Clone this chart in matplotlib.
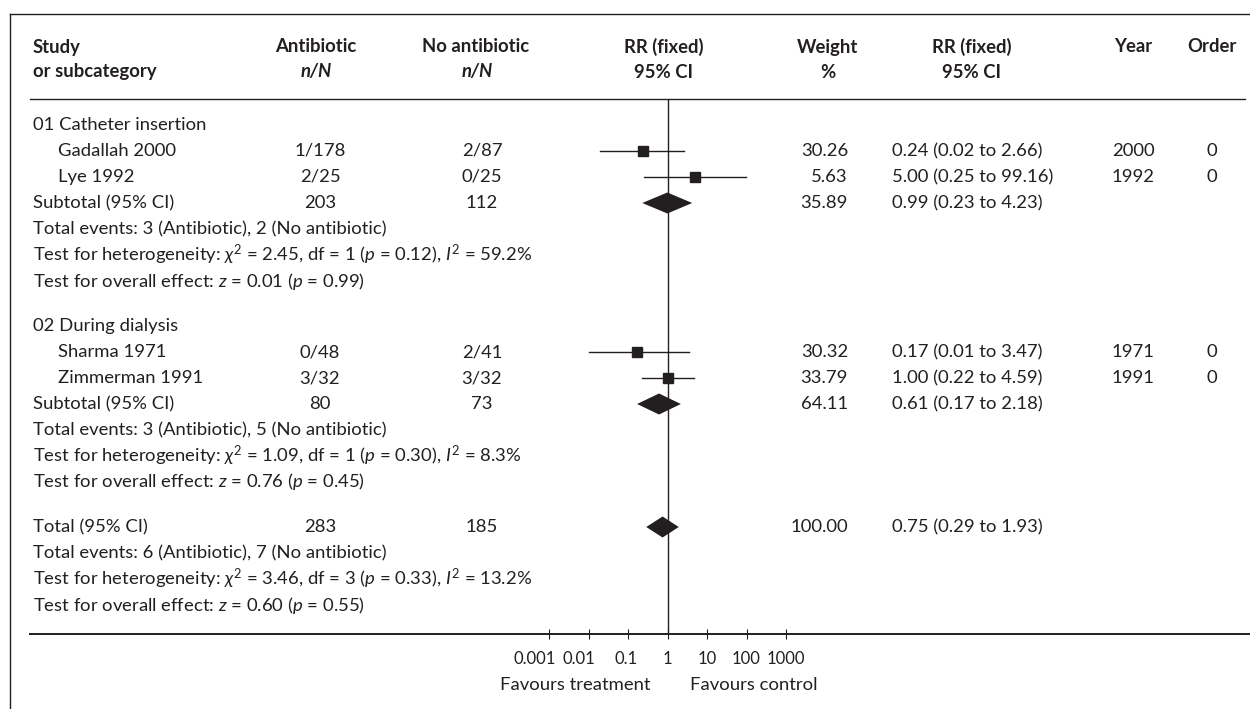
import matplotlib.pyplot as plt
from matplotlib.transforms import ScaledTranslation

plt.rcParams['font.family'] = ['Lato', 'DejaVu Sans']
plt.rcParams['mathtext.fontset'] = 'custom'
plt.rcParams['mathtext.rm'] = 'Lato'
plt.rcParams['mathtext.it'] = 'Lato:italic'
plt.rcParams['mathtext.bf'] = 'Lato:bold'

# ---- data ----
groups = ['01 Catheter insertion', '02 During dialysis']
studies = [['Gadallah 2000', 'Lye 1992'], ['Sharma 1971', 'Zimmerman 1991']]
antibiotic = [['1/178', '2/25'], ['0/48', '3/32']]
no_antibiotic = [['2/87', '0/25'], ['2/41', '3/32']]
weights = [['30.26', '5.63'], ['30.32', '33.79']]
rr = [[0.24, 5.00], [0.17, 1.00]]
rr_lo = [[0.02, 0.25], [0.01, 0.22]]
rr_hi = [[2.66, 99.16], [3.47, 4.59]]
years = [['2000', '1992'], ['1971', '1991']]
orders = [['0', '0'], ['0', '0']]

sub_ab = ['203', '80']
sub_noab = ['112', '73']
sub_weight = ['35.89', '64.11']
sub_rr = [0.99, 0.61]
sub_lo = [0.23, 0.17]
sub_hi = [4.23, 2.18]
sub_events = ['Total events: 3 (Antibiotic), 2 (No antibiotic)',
              'Total events: 3 (Antibiotic), 5 (No antibiotic)']
sub_het = [r'Test for heterogeneity: $\chi^2$ = 2.45, df = 1 ($p$ = 0.12), $I^2$ = 59.2%',
           r'Test for heterogeneity: $\chi^2$ = 1.09, df = 1 ($p$ = 0.30), $I^2$ = 8.3%']
sub_overall = [r'Test for overall effect: $z$ = 0.01 ($p$ = 0.99)',
               r'Test for overall effect: $z$ = 0.76 ($p$ = 0.45)']

tot_ab, tot_noab, tot_weight = '283', '185', '100.00'
tot_rr, tot_lo, tot_hi = 0.75, 0.29, 1.93
tot_events = 'Total events: 6 (Antibiotic), 7 (No antibiotic)'
tot_het = r'Test for heterogeneity: $\chi^2$ = 3.46, df = 3 ($p$ = 0.33), $I^2$ = 13.2%'
tot_overall = r'Test for overall effect: $z$ = 0.60 ($p$ = 0.55)'

ticks = [0.001, 0.01, 0.1, 1, 10, 100, 1000]
tick_labels = ['0.001', '0.01', '0.1', '1', '10', '100', '1000']

# ---- layout ----
ink = '#231f20'
fs = 13.3
W, H = 1250, 709
x_study, x_indent = 33, 58
x_ab, x_noab = 320, 482
x_w, x_rr, x_year, x_order = 848, 892, 1133, 1212
row, gap = 26, 19
y_rule, y_bottom = 99, 634

fig = plt.figure(figsize=(12.5, 7.09), dpi=100)
tab = fig.add_axes([0, 0, 1, 1])
tab.set_xlim(0, W)
tab.set_ylim(H, 0)
tab.axis('off')

fax = fig.add_axes([549 / W, (H - y_bottom) / H, 237 / W, (y_bottom - y_rule) / H])
fax.patch.set_alpha(0)
fax.set_xscale('log')
fax.set_xlim(1e-3, 1e3)
fax.set_ylim(y_bottom, y_rule)
for s in fax.spines.values():
    s.set_visible(False)
fax.set_yticks([])
fax.set_xticks(ticks)
fax.set_xticklabels(tick_labels, fontsize=12, color=ink)
fax.xaxis.set_minor_locator(plt.NullLocator())
fax.tick_params(axis='x', direction='inout', length=6.5, width=0.8, pad=9, colors=ink)
# the two smallest labels sit a little left of their ticks in the original
for lab, dx in zip(fax.get_xticklabels(), [-14, -10, -2, 0, 0, 0, 0]):
    lab.set_transform(lab.get_transform() + ScaledTranslation(dx / 100, 0, fig.dpi_scale_trans))
fax.axvline(1, color=ink, lw=1.0, zorder=1)


def txt(x, y, s, ha='left', **kw):
    tab.text(x, y, s, ha=ha, va='center', fontsize=fs, color=ink, **kw)


def diamond(y, est, lo, hi, h=10.5):
    fax.fill([lo, est, hi, est], [y, y - h, y, y + h], color=ink, lw=0, zorder=3)


# frame and rules
tab.plot([10, W], [14, 14], color=ink, lw=1.0)
tab.plot([10, 10], [14, H], color=ink, lw=1.0)
tab.plot([30, 1245], [y_rule, y_rule], color=ink, lw=1.0)
tab.plot([30, W], [y_bottom, y_bottom], color=ink, lw=1.4)

# header
bold = dict(fontweight='bold')
bi = dict(fontweight='bold', fontstyle='italic')
txt(x_study, 47, 'Study', **bold)
txt(x_study, 72, 'or subcategory', **bold)
txt(316, 47, 'Antibiotic', ha='center', **bold)
txt(316, 72, 'n/N', ha='center', **bi)
txt(476, 47, 'No antibiotic', ha='center', **bold)
txt(477, 72, 'n/N', ha='center', **bi)
txt(664, 47, 'RR (fixed)', ha='center', **bold)
txt(664, 72, '95% CI', ha='center', **bold)
txt(828, 47, 'Weight', ha='center', **bold)
txt(828, 72, '%', ha='center', **bold)
txt(972, 47, 'RR (fixed)', ha='center', **bold)
txt(972, 72, '95% CI', ha='center', **bold)
txt(x_year, 47, 'Year', ha='center', **bold)
txt(x_order, 47, 'Order', ha='center', **bold)

y = 125
for g in range(len(groups)):
    txt(x_study, y, groups[g])
    y += row
    for i in range(len(studies[g])):
        txt(x_indent, y, studies[g][i])
        txt(x_ab, y, antibiotic[g][i], ha='center')
        txt(x_noab, y, no_antibiotic[g][i], ha='center')
        txt(x_w, y, weights[g][i], ha='right')
        txt(x_rr, y, f'{rr[g][i]:.2f} ({rr_lo[g][i]:.2f} to {rr_hi[g][i]:.2f})')
        txt(x_year, y, years[g][i], ha='center')
        txt(x_order, y, orders[g][i], ha='center')
        fax.plot([rr_lo[g][i], rr_hi[g][i]], [y, y], color=ink, lw=1.0, zorder=2)
        fax.plot(rr[g][i], y, 's', color=ink, ms=7.2, zorder=3)
        y += row
    txt(x_study, y, 'Subtotal (95% CI)')
    txt(x_ab, y, sub_ab[g], ha='center')
    txt(x_noab, y, sub_noab[g], ha='center')
    txt(x_w, y, sub_weight[g], ha='right')
    txt(x_rr, y, f'{sub_rr[g]:.2f} ({sub_lo[g]:.2f} to {sub_hi[g]:.2f})')
    diamond(y, sub_rr[g], sub_lo[g], sub_hi[g])
    y += row
    txt(x_study, y, sub_events[g])
    y += row
    txt(x_study, y, sub_het[g])
    y += row
    txt(x_study, y, sub_overall[g])
    y += row + gap

txt(x_study, y, 'Total (95% CI)')
txt(x_ab, y, tot_ab, ha='center')
txt(x_noab, y, tot_noab, ha='center')
txt(x_w, y, tot_weight, ha='right')
txt(x_rr, y, f'{tot_rr:.2f} ({tot_lo:.2f} to {tot_hi:.2f})')
diamond(y, tot_rr, tot_lo, tot_hi)
y += row
txt(x_study, y, tot_events)
y += row
txt(x_study, y, tot_het)
y += row
txt(x_study, y, tot_overall)

txt(650, 685, 'Favours treatment', ha='right')
txt(690, 685, 'Favours control', ha='left')

fig.savefig('out.png', dpi=100)
